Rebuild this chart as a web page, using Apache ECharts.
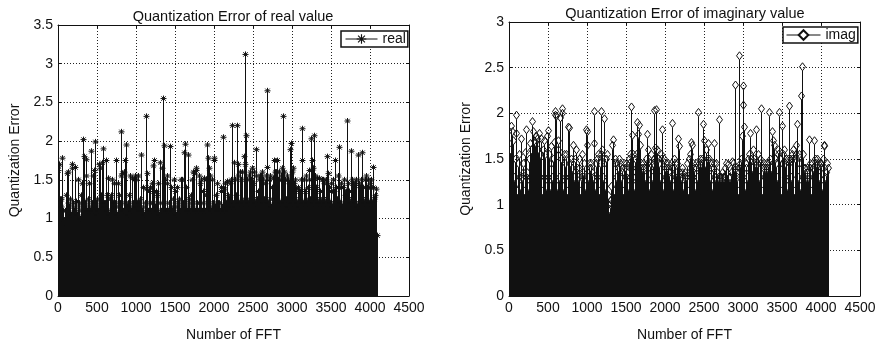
<!DOCTYPE html>
<html><head><meta charset="utf-8">
<script src="https://cdn.jsdelivr.net/npm/echarts@6/dist/echarts.min.js"></script>
<style>html,body{margin:0;padding:0;background:#fff}#c{width:882px;height:347px}</style>
</head><body><div id="c"></div>
<script>
// FFT bin spacing of the sampled stems (one stem per 10 bins)
const fftStep = 10;
const titles = ['Quantization Error of real value', 'Quantization Error of imaginary value'];
const seriesNames = ['real', 'imag'];
const xAxisName = 'Number of FFT';
const yAxisName = 'Quantization Error';
const xMax = 4500, xInterval = 500;
const yMaxReal = 3.5, yMaxImag = 3, yInterval = 0.5;

const realValues = [
1.62,1.68,1.7,1.25,1.15,1.25,1.78,1.1,0.95,1.0,1.1,1.3,1.58,1.2,1.6,1.15,1.25,1.05,1.7,1.65,
1.2,1.1,1.66,1.15,1.22,1.05,1.5,1.2,1.1,1.0,1.3,1.15,1.45,2.02,1.8,1.2,1.55,1.76,1.1,1.25,
1.15,1.45,1.1,1.87,1.2,1.55,1.1,1.62,1.99,1.2,1.05,1.25,1.1,1.7,1.65,1.15,1.3,1.72,1.9,1.2,
1.15,1.2,1.75,1.1,1.3,1.52,1.05,1.25,1.3,1.1,1.5,1.2,1.1,1.45,1.2,1.75,1.05,1.45,1.15,1.3,
1.2,1.55,2.12,1.58,1.1,1.6,1.2,1.75,1.95,1.15,1.2,1.05,1.3,1.55,1.1,1.52,1.15,1.2,1.5,1.55,
1.5,1.15,1.2,1.55,1.1,1.2,1.25,1.82,1.1,1.4,1.15,1.05,1.2,1.38,2.32,1.58,1.1,1.35,1.2,1.4,
1.1,1.45,1.2,1.68,1.75,1.15,1.35,1.1,1.3,1.45,1.05,1.2,1.72,1.1,1.65,2.55,1.94,1.2,1.5,1.1,
1.45,1.55,1.1,1.2,1.93,1.15,1.4,1.1,1.25,1.5,1.15,1.35,1.05,1.4,1.1,1.2,1.25,1.1,1.5,1.15,
1.5,1.2,1.85,1.96,1.15,1.4,1.1,1.82,1.2,1.25,1.1,1.3,1.5,1.15,1.6,1.58,1.1,1.62,1.65,1.2,
1.1,1.55,1.2,1.45,1.5,1.1,1.35,1.2,1.52,1.1,1.3,1.5,1.95,1.78,1.65,1.15,1.55,1.1,1.5,1.2,
1.78,1.75,1.15,1.3,1.1,1.45,1.2,1.2,1.1,1.35,1.4,1.15,2.05,1.38,1.1,1.45,1.2,1.48,1.1,1.3,
1.25,1.45,1.5,1.15,2.2,1.2,1.72,1.5,1.15,1.3,2.2,1.7,1.55,1.2,1.6,1.5,1.25,1.6,1.2,1.8,
1.7,3.12,2.07,1.5,1.2,1.55,1.25,1.6,1.5,1.65,1.25,1.45,1.6,1.2,1.89,1.55,1.25,1.35,1.5,1.55,
1.25,1.55,1.6,1.2,1.5,1.25,1.45,1.55,2.65,1.66,1.2,1.5,1.25,1.55,1.15,1.4,1.52,1.2,1.75,1.6,
1.6,1.25,1.75,1.5,1.6,1.2,1.55,1.5,1.65,2.32,1.6,1.2,1.5,1.25,1.55,1.5,1.15,1.45,1.89,1.97,
1.6,1.2,1.65,1.45,1.25,1.5,1.38,1.2,1.4,1.35,1.15,1.35,1.5,2.16,1.75,1.2,1.5,1.35,1.25,1.55,
1.2,1.4,1.5,1.62,1.25,2.03,1.75,1.65,1.2,2.07,1.55,1.25,1.4,1.52,1.2,1.52,1.25,1.35,1.2,1.5,
1.25,1.5,1.45,1.2,1.5,1.8,1.25,1.58,1.4,1.2,1.35,1.45,1.15,1.5,1.35,1.2,1.75,1.4,1.25,1.55,
1.4,1.92,1.2,1.4,1.45,1.15,1.4,1.5,1.2,1.3,1.35,2.26,1.25,1.45,1.35,1.2,1.87,1.5,1.25,1.45,
1.4,1.2,1.45,1.5,1.15,1.82,1.45,1.2,1.4,1.5,1.25,1.85,1.4,1.2,1.5,1.55,1.25,1.4,1.5,1.2,
1.45,1.4,1.5,1.2,1.66,1.4,1.25,1.3,1.38,0.78
];

const imagValues = [
1.44,1.3,1.6,1.86,1.2,1.8,1.7,1.3,1.5,1.78,1.98,1.15,1.45,1.3,1.55,1.2,1.72,1.3,1.35,1.45,
1.15,1.57,1.82,1.3,1.35,1.2,1.5,1.67,1.3,1.6,1.91,1.8,1.2,1.7,1.68,1.75,1.3,1.72,1.6,1.78,
1.3,1.55,1.72,1.15,1.6,1.7,1.3,1.55,1.2,1.75,1.81,1.3,1.55,1.2,1.64,1.45,1.3,1.5,1.68,1.98,
2.02,1.97,1.2,1.6,1.7,1.3,1.95,1.5,2.05,2.0,1.2,1.55,1.3,1.45,1.55,1.15,1.85,1.84,1.3,1.45,
1.5,1.15,1.4,1.65,1.3,1.5,1.6,1.2,1.4,1.3,1.5,1.4,1.15,1.3,1.55,1.3,1.35,1.45,1.2,1.82,
1.8,1.65,1.3,1.45,1.4,1.15,1.45,1.35,1.3,1.67,2.02,1.2,1.45,1.5,1.3,1.55,1.15,1.45,1.55,2.02,
1.6,1.3,1.45,1.94,1.2,1.5,1.55,1.0,1.1,0.95,1.0,1.05,1.2,1.65,1.71,1.15,1.45,1.5,1.3,1.45,
1.4,1.2,1.5,1.45,1.3,1.4,1.35,1.15,1.45,1.4,1.3,1.45,1.35,1.2,1.5,1.45,1.55,2.07,1.76,1.3,
1.55,1.2,1.5,1.4,1.55,1.9,1.77,1.87,1.65,1.3,1.45,1.4,1.15,1.45,1.4,1.3,1.5,1.45,1.77,1.6,
1.2,1.45,1.4,1.55,1.3,1.45,2.03,1.5,1.62,2.04,1.6,1.15,1.5,1.45,1.3,1.55,1.5,1.82,1.2,1.5,
1.4,1.3,1.45,1.4,1.15,1.45,1.35,1.3,1.45,1.89,1.4,1.2,1.5,1.45,1.3,1.35,1.45,1.72,1.64,1.15,
1.35,1.3,1.4,1.35,1.2,1.3,1.35,1.3,1.3,1.45,1.15,1.35,1.5,1.55,1.68,1.65,1.3,1.45,1.4,1.2,
1.45,1.4,1.3,2.01,1.45,1.5,1.15,1.45,1.5,1.88,1.7,1.3,1.45,1.6,1.5,1.2,1.67,1.5,1.3,1.4,
1.45,1.2,1.4,1.67,1.45,1.3,1.45,1.35,1.15,1.3,1.93,1.3,1.3,1.2,1.35,1.3,1.3,1.3,1.4,1.45,
1.35,1.15,1.44,1.3,1.3,1.35,1.47,1.2,1.45,1.4,2.31,1.3,1.4,1.3,1.15,1.4,2.63,1.45,1.5,1.75,
2.3,2.09,1.85,1.2,1.4,1.45,1.3,1.5,1.55,1.78,1.15,1.5,1.4,1.3,1.6,1.5,1.45,1.82,1.2,1.45,
1.55,1.3,1.45,1.5,2.05,1.15,1.4,1.45,1.3,1.4,1.45,1.2,1.4,1.45,2.01,1.5,1.3,1.4,1.8,1.7,
1.65,1.2,1.5,1.45,1.3,1.55,1.6,2.01,1.5,1.15,1.45,1.86,1.55,1.6,1.3,1.45,1.5,1.2,1.5,1.45,
2.08,1.5,1.3,1.55,1.5,1.6,1.15,1.5,1.55,1.65,1.88,1.3,1.45,1.55,1.2,2.19,2.51,1.55,1.3,1.4,
1.4,1.2,1.3,1.4,1.3,1.71,1.45,1.4,1.15,1.45,1.4,1.3,1.7,1.5,1.45,1.2,1.5,1.45,1.3,1.45,
1.4,1.45,1.2,1.5,1.64,1.65,1.3,1.35,1.45,1.4
];

const asteriskPath = 'path://M4.4,0L5.6,0L5.6,10L4.4,10Z M0,4.4L10,4.4L10,5.6L0,5.6Z M1,1.8L1.8,1L9,8.2L8.2,9Z M8.2,1L9,1.8L1.8,9L1,8.2Z';
const FONT = 'Liberation Sans, Arial, sans-serif';
const INK = '#111';

function toPoints(vals) { return vals.map((v, i) => [i * fftStep, v]); }

function makeStemRender(marker) {
  return function (params, api) {
    const x = api.value(0), y = api.value(1);
    const p0 = api.coord([x, 0]);
    const p1 = api.coord([x, y]);
    const px = Math.floor(p0[0]) + 0.5;
    const cx = px, cy = p1[1];
    const stemTop = marker === 'diamond' ? Math.min(p0[1], cy + 4) : cy;
    const children = [{
      type: 'line',
      shape: { x1: px, y1: p0[1], x2: px, y2: stemTop },
      style: { stroke: INK, lineWidth: 1 }
    }];
    if (marker === 'asterisk') {
      const r = 3, d = 2.2;
      [[-r, 0, r, 0], [0, -r, 0, r], [-d, -d, d, d], [-d, d, d, -d]].forEach(s => {
        children.push({ type: 'line', shape: { x1: cx + s[0], y1: cy + s[1], x2: cx + s[2], y2: cy + s[3] },
          style: { stroke: INK, lineWidth: 1 } });
      });
    } else {
      children.push({ type: 'polygon',
        shape: { points: [[cx, cy - 4], [cx + 3, cy], [cx, cy + 4], [cx - 3, cy]] },
        style: { fill: 'none', stroke: INK, lineWidth: 1 } });
    }
    return { type: 'group', children: children };
  };
}

const grids = [
  { left: 58, top: 25, width: 351, height: 271 },
  { left: 509, top: 22, width: 351, height: 274 }
];

function xAxes(gi) {
  return [
    {
      type: 'value', gridIndex: gi, min: 0, max: xMax, interval: xInterval, position: 'bottom',
      name: xAxisName, nameLocation: 'middle', nameGap: 32,
      nameTextStyle: { fontFamily: FONT, fontSize: 14, color: INK },
      axisLine: { show: true, onZero: false, lineStyle: { color: INK, width: 1 } },
      axisTick: { show: true, inside: true, length: 3, lineStyle: { color: INK } },
      axisLabel: { fontFamily: FONT, fontSize: 14, color: INK, margin: 5, formatter: v => String(v) },
      splitLine: { show: true, lineStyle: { type: [1, 2], color: '#222', width: 1 } }
    },
    {
      type: 'value', gridIndex: gi, min: 0, max: xMax, interval: xInterval, position: 'top',
      axisLine: { show: true, onZero: false, lineStyle: { color: INK, width: 1 } },
      axisTick: { show: true, inside: true, length: 3, lineStyle: { color: INK } },
      axisLabel: { show: false }, splitLine: { show: false }
    }
  ];
}
function yAxes(gi, maxV) {
  return [
    {
      type: 'value', gridIndex: gi, min: 0, max: maxV, interval: yInterval, position: 'left',
      name: yAxisName, nameLocation: 'middle', nameGap: 36, nameRotate: 90,
      nameTextStyle: { fontFamily: FONT, fontSize: 14, color: INK },
      axisLine: { show: true, onZero: false, lineStyle: { color: INK, width: 1 } },
      axisTick: { show: true, inside: true, length: 3, lineStyle: { color: INK } },
      axisLabel: { fontFamily: FONT, fontSize: 14, color: INK, margin: 5, formatter: v => String(v) },
      splitLine: { show: true, lineStyle: { type: [1, 2], color: '#222', width: 1 } }
    },
    {
      type: 'value', gridIndex: gi, min: 0, max: maxV, interval: yInterval, position: 'right',
      axisLine: { show: true, onZero: false, lineStyle: { color: INK, width: 1 } },
      axisTick: { show: true, inside: true, length: 3, lineStyle: { color: INK } },
      axisLabel: { show: false }, splitLine: { show: false }
    }
  ];
}

const legendBase = {
  orient: 'vertical', borderColor: INK, borderWidth: 1.5, backgroundColor: '#fff',
  itemHeight: 12, itemGap: 0,
  lineStyle: { width: 1, color: INK },
  textStyle: { fontFamily: FONT, fontSize: 14, color: INK }
};

const option = {
  animation: false,
  backgroundColor: '#fff',
  textStyle: { fontFamily: FONT },
  title: [
    { text: titles[0], left: 228, top: 4, textAlign: 'center',
      textStyle: { fontFamily: FONT, fontSize: 14.5, fontWeight: 'normal', color: INK } },
    { text: titles[1], left: 680, top: 1, textAlign: 'center',
      textStyle: { fontFamily: FONT, fontSize: 14.5, fontWeight: 'normal', color: INK } }
  ],
  legend: [
    Object.assign({}, legendBase, { data: [seriesNames[0]], left: 341, top: 31, padding: [1, 2, 1, 4], itemWidth: 32 }),
    Object.assign({}, legendBase, { data: [seriesNames[1]], left: 783, top: 27, padding: [1, 2, 1, 3], itemWidth: 34 })
  ],
  grid: grids.map(g => Object.assign({ show: false, containLabel: false }, g)),
  xAxis: xAxes(0).concat(xAxes(1)),
  yAxis: yAxes(0, yMaxReal).concat(yAxes(1, yMaxImag)),
  series: [
    { type: 'custom', name: 'realStem', xAxisIndex: 0, yAxisIndex: 0, renderItem: makeStemRender('asterisk'),
      encode: { x: 0, y: 1 }, data: toPoints(realValues), clip: true, silent: true },
    { type: 'line', name: seriesNames[0], xAxisIndex: 0, yAxisIndex: 0, data: [],
      symbol: asteriskPath, symbolSize: 7, itemStyle: { color: INK }, lineStyle: { color: INK, width: 1 } },

    { type: 'custom', name: 'imagStem', xAxisIndex: 2, yAxisIndex: 2, renderItem: makeStemRender('diamond'),
      encode: { x: 0, y: 1 }, data: toPoints(imagValues), clip: true, silent: true },
    { type: 'line', name: seriesNames[1], xAxisIndex: 2, yAxisIndex: 2, data: [],
      symbol: 'diamond', symbolSize: [6, 8], itemStyle: { color: '#fff', borderColor: INK, borderWidth: 1 },
      lineStyle: { color: INK, width: 1 } }
  ]
};

const chart = echarts.init(document.getElementById('c'), null, { renderer: 'canvas' });
chart.setOption(option);
</script>
</body></html>
